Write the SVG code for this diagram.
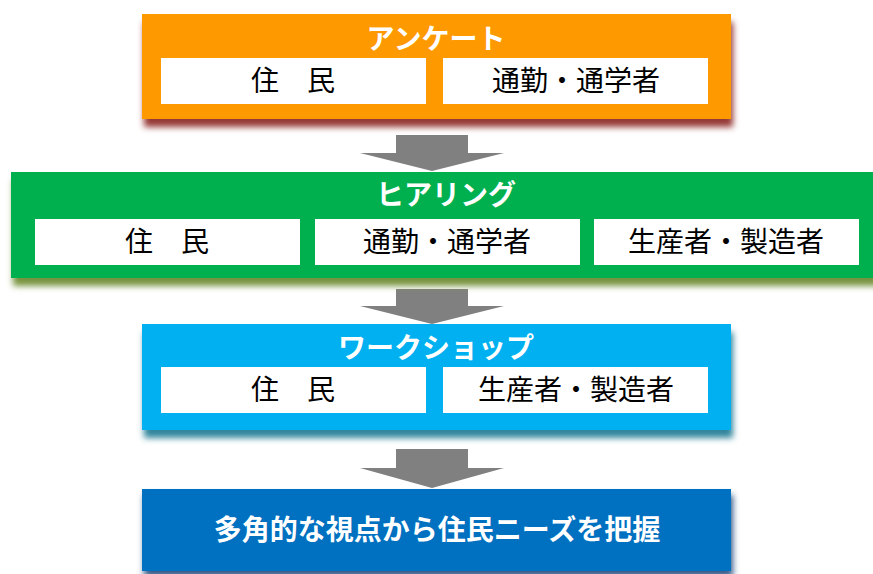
<svg xmlns="http://www.w3.org/2000/svg" width="873" height="574" viewBox="0 0 873 574">
<style>
.title{font-family:"Noto Sans CJK JP","Noto Sans",sans-serif;font-size:28px;font-weight:bold;fill:#fff;text-anchor:middle}
.item{font-family:"Noto Sans CJK JP","Noto Sans",sans-serif;font-size:28px;fill:#000;text-anchor:middle}
.cell{fill:#fff}
.arrow{fill:#808080}
</style>
<defs>
<filter id="shO" x="-5%" y="-20%" width="110%" height="150%"><feDropShadow dx="2" dy="8" stdDeviation="3" flood-color="#953735" flood-opacity="1"/></filter>
<filter id="shG" x="-5%" y="-20%" width="110%" height="150%"><feDropShadow dx="2" dy="8" stdDeviation="3" flood-color="#77933C" flood-opacity="1"/></filter>
<filter id="shB" x="-5%" y="-20%" width="110%" height="150%"><feDropShadow dx="2" dy="8" stdDeviation="3" flood-color="#31859C" flood-opacity="1"/></filter>
<filter id="shD" x="-5%" y="-20%" width="110%" height="150%"><feDropShadow dx="2" dy="6" stdDeviation="3" flood-color="#1F497D" flood-opacity="0.9"/></filter>
</defs>
<rect width="873" height="574" fill="#fff"/>
<g id="connectors">
<polygon class="arrow" points="396,135 468,135 468,153 504,153 432,171 360,153 396,153"/>
<polygon class="arrow" points="396,289 468,289 468,306 504,306 432,324 360,306 396,306"/>
<polygon class="arrow" points="396,449 468,449 468,468 504,468 432,488 360,468 396,468"/>
</g>
<g id="survey">
<rect x="142" y="14" width="589" height="105" fill="#FF9900" filter="url(#shO)"/>
<text class="title" x="436" y="49">アンケート</text>
<rect class="cell" x="161" y="58" width="265" height="46"/>
<rect class="cell" x="443" y="58" width="265" height="46"/>
<text class="item" x="293" y="91">住　民</text>
<text class="item" x="576" y="91">通勤・通学者</text>
</g>
<g id="hearing">
<rect x="11" y="172" width="866" height="106" fill="#00B050" filter="url(#shG)"/>
<text class="title" x="446" y="205">ヒアリング</text>
<rect class="cell" x="35" y="219" width="265" height="46"/>
<rect class="cell" x="315" y="219" width="265" height="46"/>
<rect class="cell" x="594" y="219" width="265" height="46"/>
<text class="item" x="167" y="252">住　民</text>
<text class="item" x="447" y="252">通勤・通学者</text>
<text class="item" x="726" y="252">生産者・製造者</text>
</g>
<g id="workshop">
<rect x="142" y="324" width="589" height="106" fill="#00B0F0" filter="url(#shB)"/>
<text class="title" x="436" y="358">ワークショップ</text>
<rect class="cell" x="161" y="367" width="265" height="46"/>
<rect class="cell" x="443" y="367" width="265" height="46"/>
<text class="item" x="293" y="400">住　民</text>
<text class="item" x="576" y="400">生産者・製造者</text>
</g>
<g id="result">
<rect x="142" y="489" width="589" height="82" fill="#0070C0" filter="url(#shD)"/>
<text class="title" x="437" y="540">多角的な視点から住民ニーズを把握</text>
</g>
</svg>
